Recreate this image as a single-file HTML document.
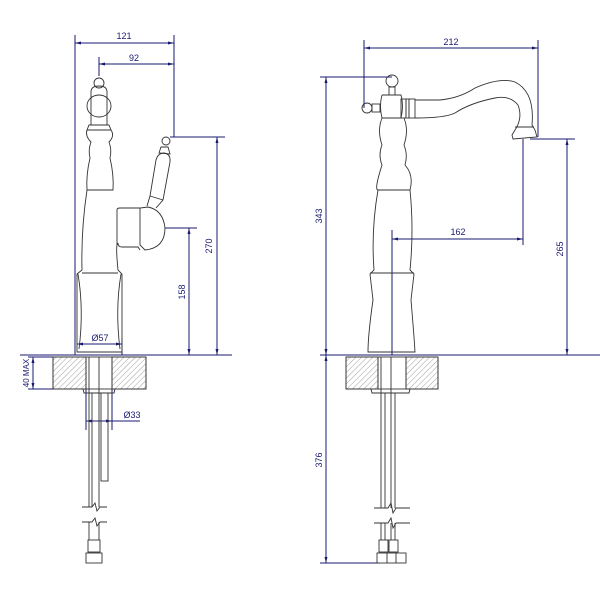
<!DOCTYPE html>
<html><head><meta charset="utf-8"><style>
html,body{margin:0;padding:0;background:#fff;}
svg{display:block}
text{font-family:"Liberation Sans",sans-serif;font-size:9px;fill:#1a1a70}
</style></head><body>
<svg width="600" height="600" viewBox="0 0 600 600" xmlns="http://www.w3.org/2000/svg">
<defs>
<pattern id="h" width="4" height="4" patternUnits="userSpaceOnUse" patternTransform="rotate(45)">
<line x1="0" y1="0" x2="0" y2="4" stroke="#888" stroke-width="0.8"/>
</pattern>
<marker id="a" markerWidth="6" markerHeight="6" refX="6" refY="3" orient="auto-start-reverse" markerUnits="userSpaceOnUse"><path d="M0,1.5 L6,3 L0,4.5z" fill="#1a1a70"/></marker>
</defs>
<g stroke="#1a1a70" stroke-width="1" fill="none">
<line x1="75" y1="35" x2="75" y2="355"/><line x1="174" y1="35" x2="174" y2="137"/>
<line x1="75" y1="43" x2="174" y2="43" marker-start="url(#a)" marker-end="url(#a)"/>
<line x1="99" y1="57" x2="99" y2="76"/>
<line x1="99" y1="64" x2="174" y2="64" marker-start="url(#a)" marker-end="url(#a)"/>
<line x1="170" y1="137" x2="225" y2="137"/>
<line x1="217" y1="137" x2="217" y2="355" marker-start="url(#a)" marker-end="url(#a)"/>
<line x1="165" y1="228" x2="197" y2="228"/>
<line x1="189" y1="228" x2="189" y2="355" marker-start="url(#a)" marker-end="url(#a)"/>
<line x1="77" y1="344" x2="122" y2="344" marker-start="url(#a)" marker-end="url(#a)"/>
<line x1="122" y1="338" x2="122" y2="355"/>
<line x1="20" y1="355" x2="232" y2="355"/>
<line x1="28" y1="357" x2="53" y2="357"/><line x1="28" y1="389" x2="53" y2="389"/>
<line x1="33" y1="357" x2="33" y2="389" marker-start="url(#a)" marker-end="url(#a)"/>
<line x1="86" y1="389" x2="86" y2="430"/><line x1="112" y1="389" x2="112" y2="430"/>
<line x1="86" y1="421" x2="112" y2="421" marker-start="url(#a)" marker-end="url(#a)"/>
<line x1="112" y1="421" x2="140" y2="421"/>
<line x1="364" y1="40" x2="364" y2="108"/><line x1="538" y1="40" x2="538" y2="137"/>
<line x1="364" y1="48" x2="538" y2="48" marker-start="url(#a)" marker-end="url(#a)"/>
<line x1="320" y1="77" x2="392" y2="77"/>
<line x1="326" y1="77" x2="326" y2="355" marker-start="url(#a)" marker-end="url(#a)"/>
<line x1="530" y1="139" x2="575" y2="139"/>
<line x1="567" y1="139" x2="567" y2="355" marker-start="url(#a)" marker-end="url(#a)"/>
<line x1="523" y1="139" x2="523" y2="245"/><line x1="392" y1="230" x2="392" y2="355"/>
<line x1="392" y1="239" x2="523" y2="239" marker-start="url(#a)" marker-end="url(#a)"/>
<line x1="320" y1="355" x2="600" y2="355"/>
<line x1="326" y1="355" x2="326" y2="563" marker-start="url(#a)" marker-end="url(#a)"/>
<line x1="320" y1="563" x2="380" y2="563"/>
</g>
<text x="124" y="39" text-anchor="middle">121</text>
<text x="134" y="61" text-anchor="middle">92</text>
<text x="100" y="341" text-anchor="middle">Ø57</text>
<text x="132" y="418" text-anchor="middle">Ø33</text>
<text transform="translate(212,246) rotate(-90)" text-anchor="middle">270</text>
<text transform="translate(185,292) rotate(-90)" text-anchor="middle">158</text>
<text transform="translate(29,373) rotate(-90)" text-anchor="middle" style="font-size:8px">40 MAX</text>
<text x="451" y="45" text-anchor="middle">212</text>
<text x="458" y="235" text-anchor="middle">162</text>
<text transform="translate(322,216) rotate(-90)" text-anchor="middle">343</text>
<text transform="translate(563,249) rotate(-90)" text-anchor="middle">265</text>
<text transform="translate(322,460) rotate(-90)" text-anchor="middle">376</text>

<g stroke="#333" stroke-width="0.9" fill="none">
<circle cx="99" cy="83" r="5"/>
<path d="M91,125 L91,92 Q91,86 99,86 Q107,86 107,92 L107,125"/>
<ellipse cx="99" cy="106" rx="12" ry="11"/>
<path d="M89,125 L109,125 L111,130 L87,130 Z"/>
<path d="M87,130 Q85,136 91,142 Q88,150 90,158 Q86,175 87,190 L113,190 Q114,175 110,158 Q112,150 109,142 Q115,136 111,130"/>
<path d="M87,190 Q81,230 82,270 L77,274 L77,352 L122,352 L122,274 L118,270 Q116,250 117,245 L118,243 Q118,247 122,247 L138,247 L140,250 M117,245 L117,210 Q117,208 120,208 L140,208"/>
<line x1="82" y1="273" x2="118" y2="273"/>
<path d="M78,274 Q84,310 79,349 M121,274 Q115,310 120,349"/>
<path d="M140,208 L140,245 L145,250 Q165,248 165,228 Q163,210 148,207 Z"/>
<path d="M147,206 L150,196 L156,160 Q158,153 164,153 Q171,154 170,162 L163,200 L156,208"/>
<line x1="150" y1="196" x2="163" y2="200"/>
<path d="M161,147 L168,147 L170,154 L159,153 Z"/><circle cx="166" cy="141" r="4"/>
<rect x="53" y="357" width="33" height="32" fill="url(#h)" stroke="#222"/>
<rect x="112" y="357" width="34" height="32" fill="url(#h)" stroke="#222"/>
<rect x="86" y="357" width="26" height="32"/>
<path d="M83,389 L84,393 L114,393 L115,389"/>
<line x1="89" y1="357" x2="89" y2="507"/><line x1="99" y1="357" x2="99" y2="507"/>
<line x1="92" y1="393" x2="92" y2="507"/>
<rect x="101" y="393" width="7" height="88"/>
<path d="M82,507 L92,507 L95,503 L97,511 L100,507 L107,507"/>
<path d="M82,522 L92,522 L95,518 L97,526 L100,522 L107,522"/>
<line x1="89" y1="522" x2="89" y2="540"/><line x1="99" y1="522" x2="99" y2="540"/>
<rect x="88" y="540" width="12" height="12"/>
<rect x="86" y="553" width="16" height="10"/>
<circle cx="392" cy="81" r="6"/><rect x="389" y="87" width="6" height="8"/>
<circle cx="367" cy="108" r="5"/><rect x="372" y="104" width="8" height="8"/>
<path d="M382,95 L401,95 Q404,106 401,118 L382,118 Q379,106 382,95"/>
<rect x="401" y="99" width="5" height="19"/><rect x="406" y="99" width="3" height="19"/><rect x="409" y="99" width="6" height="19"/>
<path d="M415,100 L440,100 Q460,98 475,88 Q500,77 515,82 Q535,92 532,125 L535,130 L537,137 L513,139 L512,135 L515,130 Q523,118 518,105 Q510,95 495,98 Q470,103 455,113 Q445,118 415,118"/>
<line x1="515" y1="127" x2="534" y2="127"/>
<path d="M382,118 Q377,130 382,145 Q378,155 382,165 Q374,190 378,190 L410,190 Q414,175 405,165 Q408,155 404,145 Q409,130 404,118"/>
<line x1="378" y1="190" x2="410" y2="190"/>
<path d="M378,190 Q371,230 374,270 L370,274 L373,300 Q368,335 368,352 L415,352 Q414,335 411,300 L414,274 L410,270 Q414,230 410,190"/>
<line x1="370" y1="273" x2="414" y2="273"/>
<rect x="346" y="357" width="32" height="32" fill="url(#h)" stroke="#222"/>
<rect x="406" y="357" width="32" height="32" fill="url(#h)" stroke="#222"/>
<rect x="378" y="357" width="28" height="32"/>
<path d="M371,389 L372,393 L409,393 L410,389"/>
<line x1="381" y1="357" x2="381" y2="508"/><line x1="385" y1="393" x2="385" y2="508"/>
<line x1="391" y1="357" x2="391" y2="508"/><line x1="395" y1="393" x2="395" y2="508"/>
<path d="M374,508 L388,508 L391,503 L393,513 L396,508 L410,508"/>
<path d="M374,523 L388,523 L391,518 L393,528 L396,523 L410,523"/>
<line x1="381" y1="523" x2="381" y2="540"/><line x1="385" y1="523" x2="385" y2="540"/>
<line x1="391" y1="523" x2="391" y2="540"/><line x1="395" y1="523" x2="395" y2="540"/>
<rect x="379" y="540" width="9" height="12"/><rect x="389" y="540" width="9" height="12"/>
<rect x="377" y="553" width="29" height="10"/>
<line x1="387" y1="553" x2="387" y2="563"/><line x1="396" y1="553" x2="396" y2="563"/>
</g>
</svg>
</body></html>
